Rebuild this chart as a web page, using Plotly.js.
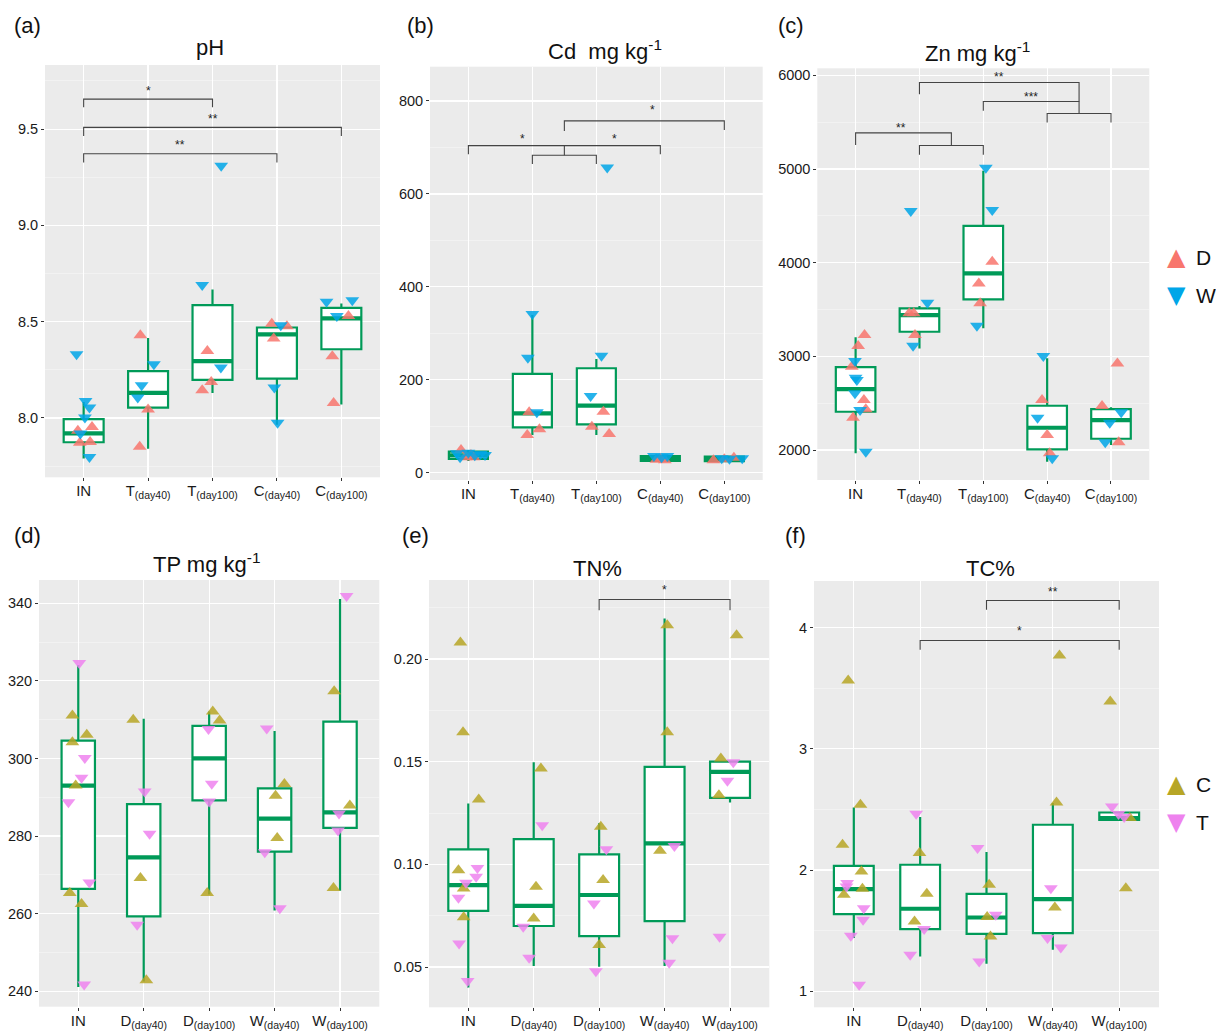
<!DOCTYPE html>
<html>
<head>
<meta charset="utf-8">
<script src="https://cdn.plot.ly/plotly-3.0.1.min.js"></script>
<style>html,body{margin:0;padding:0;background:#fff;}#chart{width:1216px;height:1031px;}</style>
</head>
<body>
<div id="chart"></div>
<script>
// ---------------- DATA ----------------
// category labels
const catsTop = ["IN", "T<sub>(day40)</sub>", "T<sub>(day100)</sub>", "C<sub>(day40)</sub>", "C<sub>(day100)</sub>"];
const catsBottom = ["IN", "D<sub>(day40)</sub>", "D<sub>(day100)</sub>", "W<sub>(day40)</sub>", "W<sub>(day100)</sub>"];
const panelTitles = ["pH", "Cd\u00a0 mg kg<sup>-1</sup>", "Zn mg kg<sup>-1</sup>", "TP mg kg<sup>-1</sup>", "TN%", "TC%"];
const panelLetters = ["(a)", "(b)", "(c)", "(d)", "(e)", "(f)"];
const legendTop = ["D", "W"];
const legendBottom = ["C", "T"];

// (a) pH box statistics
const pH_q1  = [7.874, 8.054, 8.198, 8.204, 8.357];
const pH_med = [7.920, 8.130, 8.295, 8.434, 8.517];
const pH_q3  = [7.994, 8.243, 8.586, 8.470, 8.572];
const pH_lo  = [7.789, 7.840, 8.130, 7.965, 8.070];
const pH_hi  = [8.083, 8.415, 8.667, 8.470, 8.595];
const pH_D = [[7.934, 7.953, 7.872, 7.875], [8.43, 8.044, 7.85], [8.348, 8.187, 8.144], [8.49, 8.477, 8.413], [8.529, 8.32, 8.078]];
const pH_W = [[8.331, 8.088, 8.054, 8.002, 7.919, 7.797], [8.279, 8.17, 8.106], [9.31, 8.69, 8.262], [8.482, 8.158, 7.975], [8.603, 8.612, 8.529]];
const pH_brackets = [[0, 2, 9.656, 9.613, 9.613], [0, 4, 9.509, 9.464, 9.464], [0, 3, 9.372, 9.327, 9.327]];
const pH_labels = [[1, 9.715, "*"], [2, 9.570, "**"], [1.5, 9.435, "**"]];

// (b) Cd
const Cd_q1  = [29.5, 97.7, 104.2, 25.2, 25.0];
const Cd_med = [37.5, 127.9, 144.2, 30.0, 29.5];
const Cd_q3  = [45.2, 212.5, 224.8, 36.0, 34.4];
const Cd_lo  = [25.0, 81.2, 81.0, 24.0, 24.0];
const Cd_hi  = [49.0, 339.5, 244.8, 37.0, 34.4];
const Cd_D = [[49, 38, 33, 33], [130, 93.4, 81], [131.3, 99, 83.3], [28, 27, 30], [27, 32, 29]];
const Cd_W = [[41.7, 43, 40, 38, 33, 37.5], [341.7, 247.6, 130], [656.6, 251.9, 165.1], [36, 36, 33], [31, 31, 30]];
const Cd_brackets = [[1, 2, 683.3, 664.6, 664.6], [0, 3, 704, 685.5, 685.5], [1.5, 1.5, 704, 683.3, 683.3], [1.5, 4, 757.2, 735.6, 737.8]];
const Cd_labels = [[0.85, 725, "*"], [2.28, 725, "*"], [2.88, 786, "*"]];

// (c) Zn
const Zn_q1  = [2408.7, 3262.5, 3608.0, 2007.5, 2120.6];
const Zn_med = [2651.0, 3440.7, 3885.8, 2238.0, 2320.0];
const Zn_q3  = [2885.8, 3512.0, 4393.8, 2472.8, 2437.6];
const Zn_lo  = [1964.8, 3085.0, 3298.7, 1875.0, 2053.0];
const Zn_hi  = [3202.7, 3537.0, 4981.0, 2978.6, 2455.7];
const Zn_D = [[3227, 3110, 2889, 2533.6, 2434, 2344.7], [3459, 3459, 3227], [4010, 3779, 3565.6], [2533.6, 2160, 1964.8], [2925, 2469.6, 2082]];
const Zn_W = [[2950, 2771.6, 2747, 2605, 2427, 1982], [4550.6, 3572, 3113], [5013, 4561, 3326.6], [3003, 2344.7, 1911], [2402, 2291, 2082]];
const Zn_brackets = [[0, 1.5, 5386, 5255, 5251.5], [1, 2, 5251.5, 5151.5, 5151.5], [3, 4, 5593, 5497, 5497], [2, 3.5, 5721, 5621, 5593], [1, 3.5, 5924, 5799, 5721]];
const Zn_labels = [[0.71, 5468, "**"], [2.74, 5796, "***"], [2.25, 6010, "**"]];

// (d) TP
const TP_q1  = [266.4, 259.3, 289.2, 276.0, 282.1];
const TP_med = [293.0, 274.5, 300.0, 284.5, 286.1];
const TP_q3  = [304.6, 288.2, 308.4, 292.3, 309.5];
const TP_lo  = [241.1, 242.5, 264.9, 260.8, 265.9];
const TP_hi  = [324.1, 310.2, 312.1, 307.1, 341.1];
const TP_C = [[311.1, 306.1, 304.2, 293, 265.3, 262.5], [310, 269.2, 242.8], [312.1, 309.8, 265.3], [293.4, 290.4, 279.5], [317.3, 287.9, 266.6]];
const TP_T = [[324.6, 300.1, 295, 288.7, 268, 241.7], [291.5, 280.6, 257.1], [307.6, 293.5, 288.9], [307.7, 275.8, 261.4], [341.9, 285.8, 281.4]];
const TP_brackets = [];
const TP_labels = [];

// (e) TN
const TN_q1  = [0.0774, 0.0700, 0.0651, 0.0724, 0.1324];
const TN_med = [0.0899, 0.0798, 0.0851, 0.1102, 0.1451];
const TN_q3  = [0.1073, 0.1123, 0.1049, 0.1475, 0.1500];
const TN_lo  = [0.0401, 0.0505, 0.0501, 0.0505, 0.1302];
const TN_hi  = [0.1297, 0.1497, 0.1200, 0.2198, 0.1500];
const TN_C = [[0.2081, 0.1643, 0.1316, 0.0972, 0.0883, 0.0742], [0.1467, 0.0891, 0.0737], [0.1183, 0.0924, 0.0607], [0.2165, 0.1643, 0.1066], [0.2116, 0.1516, 0.1337]];
const TN_T = [[0.0983, 0.094, 0.091, 0.0837, 0.0615, 0.0432], [0.1191, 0.0696, 0.0545], [0.1074, 0.081, 0.048], [0.1089, 0.064, 0.0521], [0.1497, 0.1407, 0.0648]];
const TN_brackets = [[2, 4, 0.229, 0.2238, 0.2238]];
const TN_labels = [[3, 0.2349, "*"]];

// (f) TC
const TC_q1  = [1.637, 1.513, 1.474, 1.480, 2.415];
const TC_med = [1.843, 1.681, 1.609, 1.761, 2.429];
const TC_q3  = [2.035, 2.044, 1.804, 2.374, 2.475];
const TC_lo  = [1.439, 1.287, 1.227, 1.342, 2.415];
const TC_hi  = [2.517, 2.437, 2.149, 2.553, 2.475];
const TC_C = [[3.564, 2.539, 2.209, 1.988, 1.846, 1.796], [2.14, 1.804, 1.576], [1.879, 1.612, 1.452], [3.771, 2.558, 1.691], [3.391, 2.429, 1.851]];
const TC_T = [[1.893, 1.865, 1.686, 1.59, 1.458, 1.054], [2.465, 1.513, 1.301], [2.182, 1.631, 1.246], [1.851, 1.439, 1.361], [2.525, 2.462, 2.437]];
const TC_brackets = [[2, 4, 4.224, 4.148, 4.148], [1, 4, 3.894, 3.818, 3.818]];
const TC_labels = [[3, 4.321, "**"], [2.5, 3.997, "*"]];

// horizontal jitter of the points
const pH_Dj = [[-0.09, 0.13, -0.06, 0.10], [-0.12, 0.0, -0.13], [-0.08, -0.02, -0.16], [-0.08, 0.155, -0.05], [0.11, -0.14, -0.12]];
const pH_Wj = [[-0.11, 0.03, 0.09, 0.02, -0.05, 0.09], [0.09, -0.10, -0.16], [0.135, -0.16, 0.13], [0.06, -0.04, 0.01], [-0.23, 0.17, -0.07]];
const Cd_Dj = [[-0.115, 0.04, 0.08, -0.05], [-0.05, 0.11, -0.08], [0.11, -0.07, 0.2], [-0.06, 0.07, 0.0], [-0.17, 0.15, 0.0]];
const Cd_Wj = [[-0.18, 0.0, 0.19, 0.26, -0.13, 0.1], [0.0, -0.07, 0.07], [0.17, 0.08, -0.09], [-0.1, 0.11, 0.02], [-0.04, 0.28, 0.08]];
const Zn_Dj = [[0.14, 0.04, -0.06, 0.13, 0.16, -0.04], [-0.16, -0.09, -0.07], [0.14, -0.07, -0.05], [-0.08, 0.0, 0.04], [0.1, -0.14, 0.12]];
const Zn_Wj = [[-0.01, 0.0, 0.02, -0.01, 0.07, 0.16], [-0.136, 0.125, -0.10], [0.04, 0.14, -0.1], [-0.06, -0.15, 0.08], [0.16, -0.02, -0.09]];
const TP_Cj = [[-0.09, 0.13, -0.09, -0.04, -0.13, 0.05], [-0.16, -0.05, 0.04], [0.055, 0.16, -0.03], [0.15, 0.015, 0.04], [-0.09, 0.15, -0.1]];
const TP_Tj = [[0.015, 0.1, 0.05, -0.15, 0.17, 0.09], [0.015, 0.09, -0.1], [-0.01, 0.04, 0.0], [-0.12, -0.15, 0.08], [0.1, -0.015, -0.03]];
const TN_Cj = [[-0.12, -0.08, 0.16, -0.15, -0.07, -0.07], [0.11, 0.035, 0.0], [0.025, 0.06, 0.0], [0.04, 0.04, -0.07], [0.1, -0.14, -0.17]];
const TN_Tj = [[0.14, 0.12, -0.035, -0.15, -0.14, -0.01], [0.13, -0.16, -0.07], [0.11, -0.08, -0.05], [0.15, 0.12, 0.07], [0.05, -0.04, -0.16]];
const TC_Cj = [[-0.085, 0.1, -0.17, 0.115, 0.13, -0.15], [-0.01, 0.1, -0.085], [0.04, 0.01, 0.06], [0.1, 0.055, 0.03], [-0.135, 0.16, 0.1]];
const TC_Tj = [[-0.1, -0.11, 0.15, 0.14, -0.045, 0.08], [-0.06, 0.06, -0.15], [-0.135, 0.14, -0.11], [-0.03, -0.08, 0.12], [-0.11, -0.01, 0.075]];

// ---------------- LAYOUT / STYLE ----------------
const W = 1216, H = 1031;
const FONT = "Liberation Sans, Arial, Helvetica, sans-serif";
const GREEN = "rgb(0,154,88)";
const COL_D = "rgb(248,118,109)", COL_W = "rgb(0,166,232)";
const COL_C = "rgb(183,166,38)", COL_T = "rgb(238,130,238)";

const panels = [
  {dom: [45, 380, 65, 477.3], range: [7.692, 9.833], dtick: 0.5, tick0: 8, fmt: ".1f", cats: catsTop, bw: 0.62,
   q1: pH_q1, med: pH_med, q3: pH_q3, lo: pH_lo, hi: pH_hi, up: pH_D, upj: pH_Dj, dn: pH_W, dnj: pH_Wj, upc: COL_D, dnc: COL_W,
   br: pH_brackets, lab: pH_labels, title: [210, 48]},
  {dom: [430, 762.7, 66.7, 480], range: [-15.7, 873.8], dtick: 200, tick0: 0, fmt: "d", cats: catsTop, bw: 0.61,
   q1: Cd_q1, med: Cd_med, q3: Cd_q3, lo: Cd_lo, hi: Cd_hi, up: Cd_D, upj: Cd_Dj, dn: Cd_W, dnj: Cd_Wj, upc: COL_D, dnc: COL_W,
   br: Cd_brackets, lab: Cd_labels, title: [605, 50]},
  {dom: [817.3, 1149.3, 68.3, 480], range: [1680, 6075], dtick: 1000, tick0: 0, fmt: "d", cats: catsTop, bw: 0.62,
   q1: Zn_q1, med: Zn_med, q3: Zn_q3, lo: Zn_lo, hi: Zn_hi, up: Zn_D, upj: Zn_Dj, dn: Zn_W, dnj: Zn_Wj, upc: COL_D, dnc: COL_W,
   br: Zn_brackets, lab: Zn_labels, title: [977, 52]},
  {dom: [39, 379.3, 580, 1006.7], range: [236.0, 346.0], dtick: 20, tick0: 0, fmt: "d", cats: catsBottom, bw: 0.51,
   q1: TP_q1, med: TP_med, q3: TP_q3, lo: TP_lo, hi: TP_hi, up: TP_C, upj: TP_Cj, dn: TP_T, dnj: TP_Tj, upc: COL_C, dnc: COL_T,
   br: TP_brackets, lab: TP_labels, title: [206, 563]},
  {dom: [429, 769.3, 580, 1007.3], range: [0.0304, 0.2385], dtick: 0.05, tick0: 0, fmt: ".2f", cats: catsBottom, bw: 0.61,
   q1: TN_q1, med: TN_med, q3: TN_q3, lo: TN_lo, hi: TN_hi, up: TN_C, upj: TN_Cj, dn: TN_T, dnj: TN_Tj, upc: COL_C, dnc: COL_T,
   br: TN_brackets, lab: TN_labels, title: [597, 568]},
  {dom: [814, 1159, 581, 1007.3], range: [0.868, 4.385], dtick: 1, tick0: 0, fmt: "d", cats: catsBottom, bw: 0.6,
   q1: TC_q1, med: TC_med, q3: TC_q3, lo: TC_lo, hi: TC_hi, up: TC_C, upj: TC_Cj, dn: TC_T, dnj: TC_Tj, upc: COL_C, dnc: COL_T,
   br: TC_brackets, lab: TC_labels, title: [990, 568]}
];
const letterPos = [[27, 25], [420, 25], [791, 25], [27, 535], [415, 535], [795, 535]];

const traces = [];
const layout = {
  width: W, height: H, autosize: false,
  margin: {l: 0, r: 0, t: 0, b: 0, pad: 0},
  paper_bgcolor: "white", plot_bgcolor: "#EBEBEB",
  showlegend: false, font: {family: FONT, color: "#222"},
  annotations: [], shapes: []
};

panels.forEach((p, k) => {
  const s = k === 0 ? "" : String(k + 1);
  const xa = "x" + s, ya = "y" + s;
  const idx = p.q1.map((_, i) => i);

  layout["xaxis" + s] = {
    domain: [p.dom[0] / W, p.dom[1] / W], anchor: ya,
    range: [-0.6, 4.6], tickvals: idx, ticktext: p.cats,
    showgrid: true, gridcolor: "white", gridwidth: 1.2, zeroline: false, showline: false,
    ticks: "outside", ticklen: 3, tickwidth: 1, tickcolor: "#333", ticklabelstandoff: -3,
    tickfont: {family: FONT, size: 15, color: "#1a1a1a"}, fixedrange: true
  };
  layout["yaxis" + s] = {
    domain: [1 - p.dom[3] / H, 1 - p.dom[2] / H], anchor: xa,
    range: p.range, tick0: p.tick0, dtick: p.dtick, tickformat: p.fmt,
    showgrid: true, gridcolor: "white", gridwidth: 1.2, zeroline: false, showline: false,
    ticks: "outside", ticklen: 3, tickwidth: 1, tickcolor: "#333",
    tickfont: {family: FONT, size: 14.5, color: "#1a1a1a"},
    minor: {dtick: p.dtick / 2, tick0: p.tick0, showgrid: true, gridcolor: "#F6F6F6", gridwidth: 0.6},
    fixedrange: true
  };

  // box bodies
  traces.push({
    type: "box", x: idx, q1: p.q1, median: p.med, q3: p.q3, lowerfence: p.lo, upperfence: p.hi,
    width: p.bw, whiskerwidth: 0, boxpoints: false, fillcolor: "white",
    line: {color: GREEN, width: 2.2}, xaxis: xa, yaxis: ya, hoverinfo: "skip", showlegend: false
  });
  // thicker median segments
  const mx = [], my = [];
  p.med.forEach((m, i) => { mx.push(i - p.bw / 2, i + p.bw / 2, null); my.push(m, m, null); });
  traces.push({type: "scatter", mode: "lines", x: mx, y: my, line: {color: GREEN, width: 4.2},
    xaxis: xa, yaxis: ya, hoverinfo: "skip", showlegend: false});

  // points
  function pts(vals, jit, sym, col) {
    const xs = [], ys = [];
    vals.forEach((arr, i) => arr.forEach((v, j) => { xs.push(i + jit[i][j]); ys.push(v); }));
    traces.push({type: "scatter", mode: "markers", x: xs, y: ys,
      marker: {symbol: sym, size: 12, color: col, opacity: 0.85, line: {width: 0}},
      xaxis: xa, yaxis: ya, hoverinfo: "skip", showlegend: false});
  }
  pts(p.up, p.upj, "triangle-up", p.upc);
  pts(p.dn, p.dnj, "triangle-down", p.dnc);

  // significance brackets
  p.br.forEach(b => {
    layout.shapes.push({type: "path", xref: xa, yref: ya,
      path: `M ${b[0]},${b[3]} L ${b[0]},${b[2]} L ${b[1]},${b[2]} L ${b[1]},${b[4]}`,
      line: {color: "#444", width: 1.1}, layer: "above"});
  });
  p.lab.forEach(l => {
    layout.annotations.push({xref: xa, yref: ya, x: l[0], y: l[1], text: l[2], showarrow: false,
      xanchor: "center", yanchor: "middle", yshift: -3, font: {family: FONT, size: 12, color: "#222"}});
  });

  // panel title
  layout.annotations.push({xref: "paper", yref: "paper", x: p.title[0] / W, y: 1 - p.title[1] / H,
    text: panelTitles[k], showarrow: false, xanchor: "center", yanchor: "middle",
    font: {family: FONT, size: 22, color: "#111"}});
  // panel letter
  layout.annotations.push({xref: "paper", yref: "paper", x: letterPos[k][0] / W, y: 1 - letterPos[k][1] / H,
    text: panelLetters[k], showarrow: false, xanchor: "center", yanchor: "middle",
    font: {family: FONT, size: 22, color: "#111"}});
});

// legends
function legend(labels, cols, yTop) {
  const syms = ["\u25B2", "\u25BC"];
  labels.forEach((lab, i) => {
    const y = yTop + i * 38;
    layout.annotations.push({xref: "paper", yref: "paper", x: 1176 / W, y: 1 - y / H, text: syms[i],
      showarrow: false, xanchor: "center", yanchor: "middle",
      font: {family: "DejaVu Sans", size: 24, color: cols[i]}});
    layout.annotations.push({xref: "paper", yref: "paper", x: 1194 / W, y: 1 - y / H, text: lab,
      showarrow: false, xanchor: "left", yanchor: "middle",
      font: {family: FONT, size: 21, color: "#111"}});
  });
}
legend(legendTop, [COL_D, COL_W], 257);
legend(legendBottom, [COL_C, COL_T], 784);

Plotly.newPlot("chart", traces, layout, {displayModeBar: false, staticPlot: true});
</script>
</body>
</html>
